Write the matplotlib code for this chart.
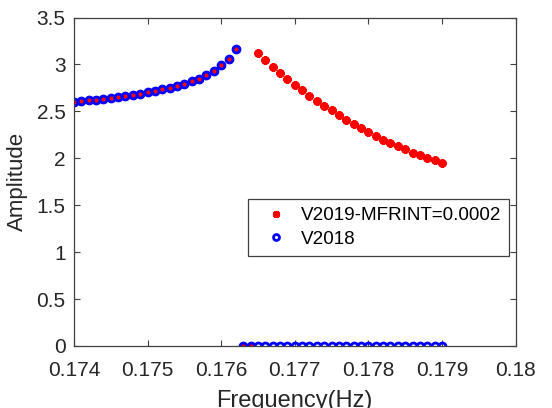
import numpy as np
import matplotlib.pyplot as plt

plt.rcParams['font.family'] = ['Liberation Sans', 'DejaVu Sans']

# V2019 / V2018 frequenzy sweep (lesing fra bildet)
freq_left = [0.1740, 0.1741, 0.1742, 0.1743, 0.1744, 0.1745, 0.1746, 0.1747,
             0.1748, 0.1749, 0.1750, 0.1751, 0.1752, 0.1753, 0.1754, 0.1755,
             0.1756, 0.1757, 0.1758, 0.1759, 0.1760, 0.1761, 0.1762]
amp_left = [2.600, 2.610, 2.618, 2.626, 2.634, 2.643, 2.652, 2.662,
            2.673, 2.686, 2.703, 2.718, 2.735, 2.753, 2.774, 2.797,
            2.822, 2.850, 2.887, 2.935, 2.997, 3.060, 3.170]

freq_right = [0.1765, 0.1766, 0.1767, 0.1768, 0.1769, 0.1770, 0.1771, 0.1772,
              0.1773, 0.1774, 0.1775, 0.1776, 0.1777, 0.1778, 0.1779, 0.1780,
              0.1781, 0.1782, 0.1783, 0.1784, 0.1785, 0.1786, 0.1787, 0.1788,
              0.1789, 0.1790]
amp_right = [3.120, 3.050, 2.970, 2.910, 2.845, 2.784, 2.724, 2.667,
             2.614, 2.561, 2.511, 2.462, 2.412, 2.370, 2.324, 2.280,
             2.242, 2.200, 2.165, 2.129, 2.094, 2.058, 2.030, 2.005,
             1.977, 1.945]

# nullverdier (ingen konvergens)
freq_zero_v2019 = [0.1763, 0.1764]
freq_zero_v2018 = [0.1763, 0.1764, 0.1765, 0.1766, 0.1767, 0.1768, 0.1769,
                   0.1770, 0.1771, 0.1772, 0.1773, 0.1774, 0.1775, 0.1776,
                   0.1777, 0.1778, 0.1779, 0.1780, 0.1781, 0.1782, 0.1783,
                   0.1784, 0.1785, 0.1786, 0.1787, 0.1788, 0.1789, 0.1790]

x_v2019 = freq_left + freq_zero_v2019 + freq_right
y_v2019 = amp_left + [0.0] * len(freq_zero_v2019) + amp_right
x_v2018 = freq_left + freq_zero_v2018
y_v2018 = amp_left + [0.0] * len(freq_zero_v2018)

fig = plt.figure(figsize=(5.52, 4.08), dpi=100)
ax = fig.add_axes([0.134, 0.152, 0.80, 0.805])

ax.plot(x_v2019, y_v2019, linestyle='None', marker=(8, 2, 0), markersize=6.0,
        markeredgewidth=2.0, color='red', label='V2019-MFRINT=0.0002')
ax.plot(x_v2018, y_v2018, linestyle='None', marker='o', markersize=5.0,
        markeredgewidth=2.0, markerfacecolor='none', markeredgecolor='blue',
        label='V2018')

ax.set_xlim(0.174, 0.18)
ax.set_ylim(0, 3.5)
ax.set_xticks([0.174, 0.175, 0.176, 0.177, 0.178, 0.179, 0.18])
ax.set_xticklabels(['0.174', '0.175', '0.176', '0.177', '0.178', '0.179', '0.18'])
ax.set_yticks([0, 0.5, 1, 1.5, 2, 2.5, 3, 3.5])
ax.set_yticklabels(['0', '0.5', '1', '1.5', '2', '2.5', '3', '3.5'])

axcol = '#404040'
for s in ax.spines.values():
    s.set_color(axcol)
    s.set_linewidth(0.9)
ax.tick_params(direction='in', top=True, right=True, length=4, width=0.8,
               colors=axcol, labelcolor='#262626', labelsize=15)
ax.tick_params(axis='x', pad=11)
ax.tick_params(axis='y', pad=6)

ax.set_xlabel('Frequency(Hz)', fontsize=17, color='#262626', labelpad=7)
ax.set_ylabel('Amplitude', fontsize=16, color='#262626', labelpad=6)

leg = ax.legend(loc='lower right', bbox_to_anchor=(0.985, 0.275),
                fontsize=13.6, fancybox=False, framealpha=1,
                edgecolor=axcol, handlelength=2.2, handletextpad=0.2,
                borderpad=0.4, labelspacing=0.35, borderaxespad=0,
                markerscale=0.85)
leg.get_frame().set_linewidth(0.9)

fig.savefig('out.png', dpi=100)
